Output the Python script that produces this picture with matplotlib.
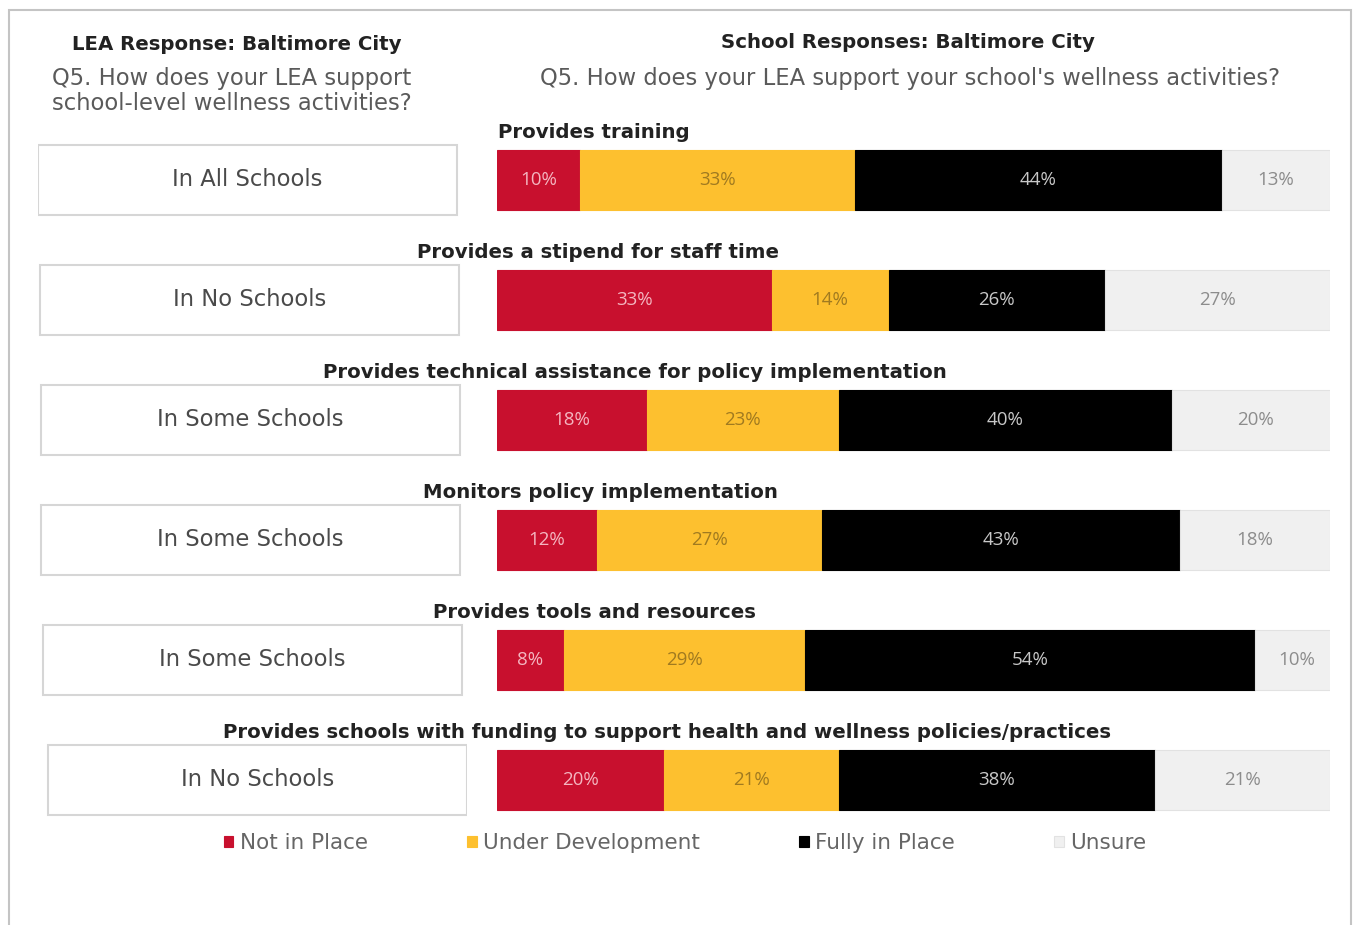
import matplotlib.pyplot as plt
from matplotlib.patches import Rectangle

plt.rcParams['font.family'] = ['DejaVu Sans']

items = [
    "Provides training",
    "Provides a stipend for staff time",
    "Provides technical assistance for policy implementation",
    "Monitors policy implementation",
    "Provides tools and resources",
    "Provides schools with funding to support health and wellness policies/practices",
]
lea_answers = ["In All Schools", "In No Schools", "In Some Schools",
               "In Some Schools", "In Some Schools", "In No Schools"]
levels = ["Not in Place", "Under Development", "Fully in Place", "Unsure"]
not_in_place = [10, 33, 18, 12, 8, 20]
under_development = [33, 14, 23, 27, 29, 21]
fully_in_place = [44, 26, 40, 43, 54, 38]
unsure = [13, 27, 20, 18, 10, 21]

colors = ["#c8102e", "#fdc02f", "#000000", "#f0f0f0"]
label_colors = ["#f4b6c0", "#a07a20", "#c8c8c8", "#8c8c8c"]
pct_font = ['Open Sans', 'DejaVu Sans']

W, H = 1353, 925
fig = plt.figure(figsize=(W / 100, H / 100), dpi=100)

# outer frame
fig.patches.append(Rectangle((9 / W, -0.05), 1342 / W, 1.05 - 10 / H,
                             transform=fig.transFigure, fill=False,
                             edgecolor="#c4c4c4", linewidth=1.5))

# headers
fig.text(237 / W, 1 - 44 / H, "LEA Response: Baltimore City", ha="center", va="center",
         fontsize=14.2, fontweight="bold", color="#222222")
fig.text(232 / W, 1 - 91 / H, "Q5. How does your LEA support\nschool-level wellness activities?",
         ha="center", va="center", fontsize=16.3, color="#5a5a5a", linespacing=1.15)
fig.text(908 / W, 1 - 42 / H, "School Responses: Baltimore City", ha="center", va="center",
         fontsize=14.2, fontweight="bold", color="#222222")
fig.text(910 / W, 1 - 78 / H, "Q5. How does your LEA support your school's wellness activities?",
         ha="center", va="center", fontsize=16.3, color="#5a5a5a")

# stacked bars
ax = fig.add_axes([497 / W, 1 - 840 / H, 833 / W, 720 / H])
ax.set_xlim(0, 100)
ax.set_ylim(5.5, -0.5)
ax.axis("off")

rows = list(range(len(items)))
series = [not_in_place, under_development, fully_in_place, unsure]
left = [0] * len(items)
handles = []
for name, vals, c, tc in zip(levels, series, colors, label_colors):
    bars = ax.barh(rows, vals, left=left, height=0.5, color=c,
                   edgecolor="#e2e2e2" if name == "Unsure" else c, linewidth=0.8, label=name)
    handles.append(bars)
    for r, v, l in zip(rows, vals, left):
        ax.text(l + v / 2, r, f"{v}%", ha="center", va="center", fontsize=13.5,
                color=tc, family=pct_font)
    left = [a + b for a, b in zip(left, vals)]

title_cx = [594, 598, 635, 600, 594, 667]
for r, t, cx in zip(rows, items, title_cx):
    ax.text((cx - 497) / 833 * 100, r - 0.4, t, ha="center", va="center",
            fontsize=14.2, fontweight="bold", color="#222222")

# LEA answer boxes
lax = fig.add_axes([38 / W, 1 - 840 / H, 429 / W, 720 / H])
lax.set_xlim(0, 429)
lax.set_ylim(5.5, -0.5)
lax.axis("off")
box_x0 = [0, 2, 3, 3, 5, 10]
for r, ans, x0 in zip(rows, lea_answers, box_x0):
    lax.add_patch(Rectangle((x0, r - 0.29), 419, 0.58, facecolor="white",
                            edgecolor="#d6d6d6", linewidth=1.5))
    lax.text(x0 + 209.5, r, ans, ha="center", va="center", fontsize=16.3, color="#4a4a4a")

leg = fig.legend(handles=handles, labels=levels, loc="center", ncol=4,
                 bbox_to_anchor=(685 / W, 1 - 843 / H), frameon=False,
                 fontsize=15.5, handlelength=0.45, handleheight=0.45,
                 handletextpad=0.3, columnspacing=4.6)
for t in leg.get_texts():
    t.set_color("#666666")

fig.savefig("out.png", dpi=100, facecolor="white")
